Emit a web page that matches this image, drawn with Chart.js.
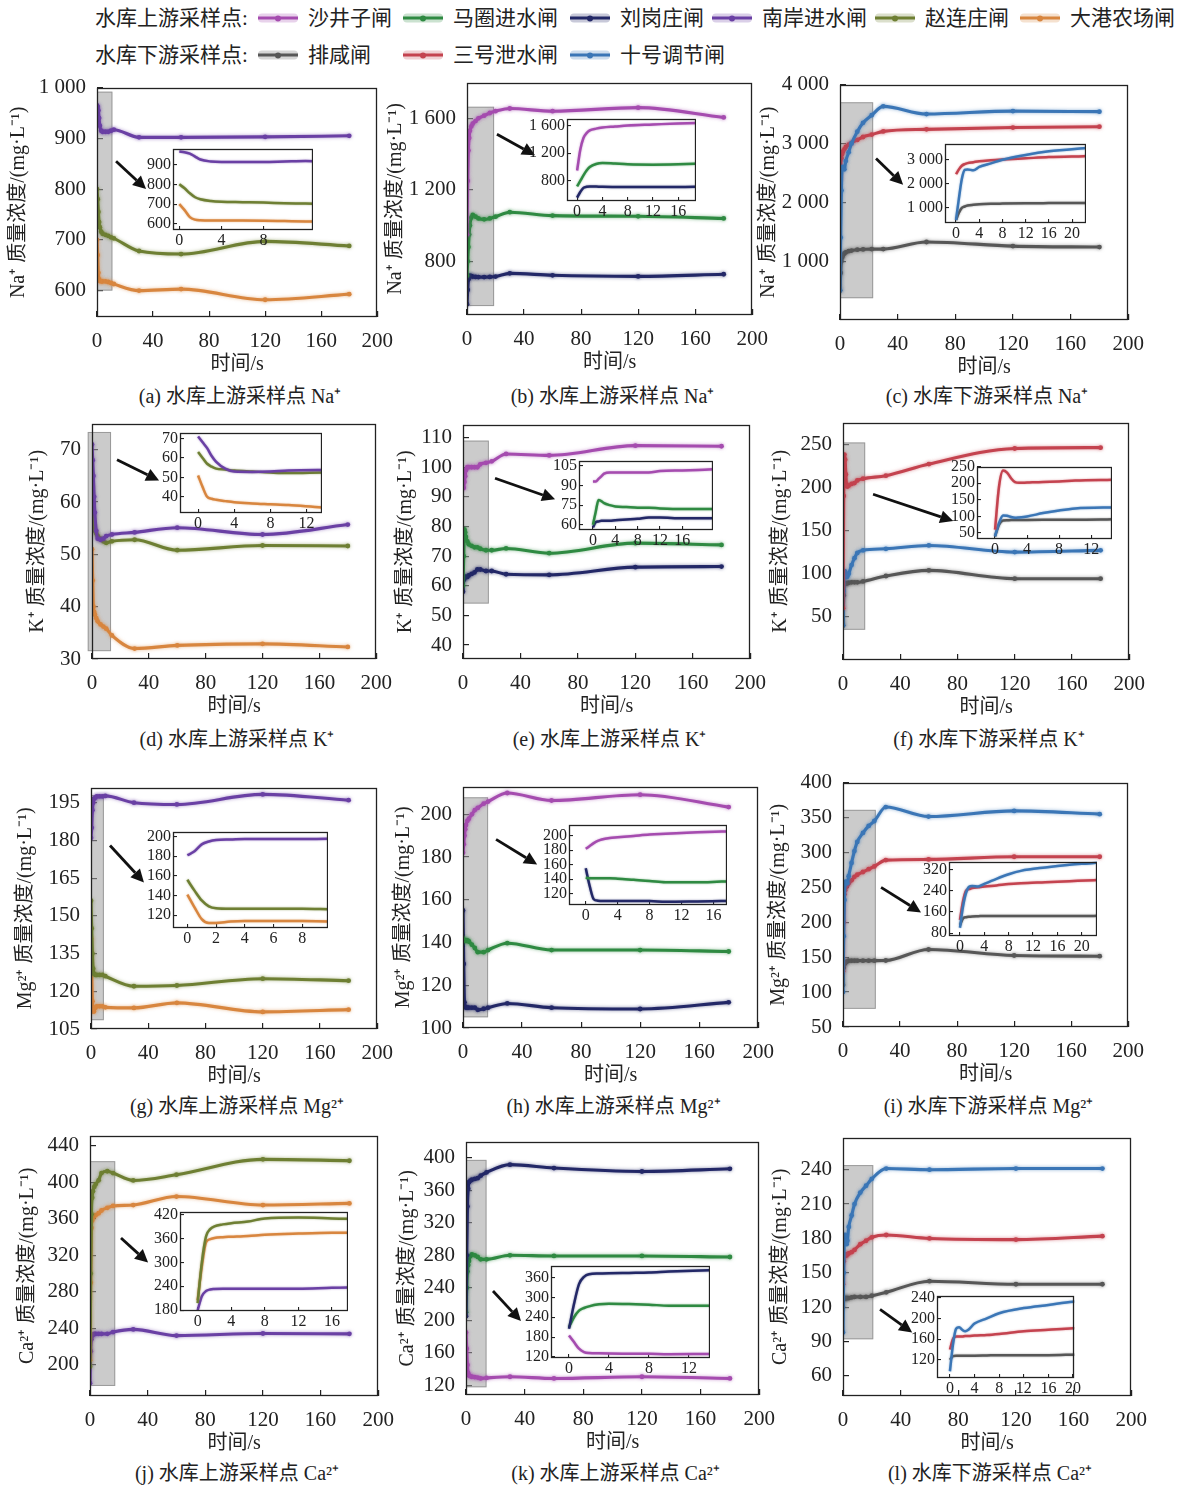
<!DOCTYPE html>
<html><head><meta charset="utf-8">
<script src="https://cdn.jsdelivr.net/npm/chart.js@4.4.1/dist/chart.umd.min.js"></script>
<style>
html,body{margin:0;padding:0;background:#fff;}
body{position:relative;width:1181px;height:1490px;overflow:hidden;font-family:"Liberation Serif","Noto Sans CJK SC",serif;color:#222;}
canvas{position:absolute;}
.txt{position:absolute;white-space:nowrap;font-size:21px;line-height:24px;transform:translateY(-50%);}
.cap{transform:translate(-50%,-50%);font-size:20px;}
.sym{position:absolute;width:40px;height:9px;border-radius:4px;transform:translateY(-50%);}
.sym i{position:absolute;left:0;right:0;top:3px;height:3px;}
.sym b{position:absolute;left:17px;top:1.5px;width:6px;height:6px;border-radius:50%;}
</style></head><body>
<script>
// ================= DATA =================
const upstreamNames = ['沙井子闸','马圈进水闸','刘岗庄闸','南岸进水闸','赵连庄闸','大港农场闸'];
const downstreamNames = ['排咸闸','三号泄水闸','十号调节闸'];
const legendTitles = ['水库上游采样点:','水库下游采样点:'];
const xTicksMain = [0,40,80,120,160,200];
const xTitle = '时间/s';

// (a) Na+ upstream
const tA = [0,0.5,1,1.5,2,3,4,6,8,10,12,30,60,120,180];
const A_nanan = [965,962,955,940,925,915,913,913,913,915,917,902,902,903,905];
const A_zhaolian = [800,780,755,735,725,716,712,710,708,705,703,678,672,697,688];
const A_dagang = [700,670,635,622,619,618,618,618,617,615,613,600,603,582,593];
const yTicksA = [600,700,800,900,1000];
const inYTicksA = [600,700,800,900];
const inXTicksA = [0,4,8];

// (b) Na+ upstream
const tB = [0,0.5,1,1.5,2,3,4,6,8,12,16,20,30,60,120,180];
const B_shajingzi = [950,1250,1420,1490,1530,1555,1570,1585,1600,1615,1630,1640,1655,1640,1660,1605];
const B_majuan = [720,800,880,950,1000,1045,1060,1050,1040,1035,1040,1050,1075,1056,1052,1040];
const B_liugang = [560,640,700,715,720,718,715,713,712,712,713,715,733,722,716,728];
const yTicksB = [800,1200,1600];
const inYTicksB = [800,1200,1600];
const inXTicksB = [0,4,8,12,16];

// (c) Na+ downstream
const tC = [0,0.5,1,1.5,2,3,4,6,8,12,16,22,30,60,120,180];
const C_shihao = [500,1400,2200,2580,2600,2560,2700,2850,3000,3200,3350,3480,3630,3500,3550,3540];
const C_sanhao = [2400,2600,2750,2820,2860,2900,2940,2980,3010,3060,3110,3150,3205,3240,3270,3285];
const C_paixian = [500,800,1000,1060,1100,1130,1150,1170,1180,1195,1200,1205,1205,1325,1256,1240];
const yTicksC = [1000,2000,3000,4000];
const inYTicksC = [1000,2000,3000];
const inXTicksC = [0,4,8,12,16,20];

// (d) K+ upstream
const tD = [0,0.5,1,1.5,2,3,4,6,8,10,14,30,60,120,180];
const D_nanan = [71,68,65,61,58,54.5,53,52.8,53,53.5,53.8,54.2,55.1,53.8,55.7];
const D_zhaolian = [63,60,57,55.5,54.5,54,53.5,53,52.5,52.2,52.5,52.8,50.8,51.7,51.6];
const D_dagang = [51,45,40,39,38.5,37.8,37.2,36.6,36.2,35.8,34.5,32,32.6,32.9,32.3];
const yTicksD = [30,40,50,60,70];
const inYTicksD = [40,50,60,70];
const inXTicksD = [0,4,8,12];

// (e) K+ upstream
const tE = [0,0.5,1,1.5,2,3,4,6,8,10,12,16,20,30,60,120,180];
const E_shajingzi = [93,93,95,97,99,100,100,100,100,100,101,101.5,102,104.5,104,107.3,107.1];
const E_majuan = [60,70,79,78,76.5,75,74,73.5,73,73,72.5,72,72,72.6,71,74.4,73.8];
const E_liugang = [58,62,62.5,63,63,63,63.5,64,64.5,65.5,65.5,65,65,63.9,63.7,66.3,66.5];
const yTicksE = [40,50,60,70,80,90,100,110];
const inYTicksE = [60,75,90,105];
const inXTicksE = [0,4,8,12,16];

// (f) K+ downstream
const tF = [0,0.5,1,1.5,2,2.5,3,4,6,8,10,14,30,60,120,180];
const F_sanhao = [60,190,238,232,215,203,201,202,204,205,208,210,213.5,227,245,246];
const F_shihao = [40,80,103,102,98,96,97,100,110,118,124,127,128.8,132.7,125,127];
const F_paixian = [40,75,88,88.5,89,89,89,89.5,90,90,90,91,97.3,103.8,94.2,94.2];
const yTicksF = [50,100,150,200,250];
const inYTicksF = [50,100,150,200,250];
const inXTicksF = [0,4,8,12];

// (g) Mg2+ upstream
const tG = [0,0.5,1,1.5,2,3,4,6,8,10,30,60,120,180];
const G_nanan = [181,185,192,195,196.5,197,197.5,197.5,197.5,197.7,195,194.3,198.3,196];
const G_zhaolian = [156,145,135,129,127,126.5,126.5,126.5,126.5,126,122,122.3,125,124.2];
const G_dagang = [141,128,116,112,112,113.5,114,114,114,113.6,113.4,115.4,111.8,112.7];
const yTicksG = [105,120,135,150,165,180,195];
const inYTicksG = [120,140,160,180,200];
const inXTicksG = [0,2,4,6,8];

// (h) Mg2+ upstream
const tH = [0,0.5,1,1.5,2,3,4,6,8,10,14,17,30,60,120,180];
const H_shajingzi = [182,186,190,193,195,197,198,200,202,203,205,206,210,206.5,209.2,203.4];
const H_majuan = [142,141,141,141,141,141,140.5,139,137.5,135.5,135.5,136.5,139.7,136.5,136.5,135.8];
const H_liugang = [155,130,112,110,109.5,109.5,109.5,109.5,109.5,108.5,109,109.5,111.5,109.5,108.9,112];
const yTicksH = [100,120,140,160,180,200];
const inYTicksH = [120,140,160,180,200];
const inXTicksH = [0,4,8,12,16];

// (i) Mg2+ downstream
const tI = [0,0.5,1,1.5,2,3,4,6,8,10,14,18,22,30,60,120,180];
const I_shihao = [100,180,232,255,258,256,266,285,302,315,328,338,345,365,351.4,359.5,354.8];
const I_sanhao = [130,200,240,246,250,253,256,260,265,268,272,276,280,289,290,293.8,293.8];
const I_paixian = [110,135,140,142,143,144,145,145,145,145,145,145,145,145.2,161,152.4,151.4];
const yTicksI = [50,100,150,200,250,300,350,400];
const inYTicksI = [80,160,240,320];
const inXTicksI = [0,4,8,12,16,20];

// (j) Ca2+ upstream
const tJ = [0,0.5,1,1.5,2,3,4,6,8,12,16,30,60,120,180];
const J_zhaolian = [198,300,365,383,390,395,398,402,410,412,410,401.9,408.2,425,423.5];
const J_dagang = [205,290,350,358,361,363,364,366,369,372,374,375,384.3,375,376.8];
const J_nanan = [180,215,228,232,233,234,234,234,234,234,236,238.9,232.1,234.4,234];
const yTicksJ = [200,240,280,320,360,400,440];
const inYTicksJ = [180,240,300,360,420];
const inXTicksJ = [0,4,8,12,16];

// (k) Ca2+ upstream
const tK = [0,0.5,1,1.5,2,3,4,6,8,10,14,30,60,120,180];
const K_liugang = [205,280,340,362,370,372,373,374,375,378,382,391.6,387.4,383.2,386.5];
const K_majuan = [210,240,260,268,273,279,281,280,278,275,275,280,279.2,279.2,277.9];
const K_shajingzi = [185,165,145,135,132,131,130.5,130,129.5,128.4,129,130.5,128.4,130.5,128.4];
const yTicksK = [120,160,200,240,280,320,360,400];
const inYTicksK = [120,180,240,300,360];
const inXTicksK = [0,4,8,12];

// (l) Ca2+ downstream
const tL = [0,0.5,1,1.5,2,2.5,3,4,6,8,12,16,20,30,60,120,180];
const L_shihao = [98,150,180,183,178,175,178,190,200,210,220,226,232,241,240,241,241];
const L_sanhao = [140,160,165,165,165,166,166,167,168,170,175,178,181,183,180,179,182];
const L_paixian = [120,127,128,128,128,128,128,128,128.5,129,129,129,130,133,142.7,140,140];
const yTicksL = [60,90,120,150,180,210,240];
const inYTicksL = [120,160,200,240];
const inXTicksL = [0,4,8,12,16,20];

// ================= STYLE =================
const COLORS = {
  '沙井子闸':'#a54caf','马圈进水闸':'#2f8a42','刘岗庄闸':'#232867','南岸进水闸':'#6a40a4',
  '赵连庄闸':'#6e7f33','大港农场闸':'#d8863f','排咸闸':'#575757','三号泄水闸':'#c4434f','十号调节闸':'#3b76b6'
};
const NUM_FONT = '"Liberation Serif","DejaVu Serif",serif';
const TXT_FONT = '"Liberation Serif","Noto Sans CJK SC",serif';

// ================= PANELS =================
const panels = [
 {t:tA, series:[['南岸进水闸',A_nanan],['赵连庄闸',A_zhaolian],['大港农场闸',A_dagang]], yTitle:'Na⁺ 质量浓度/(mg·L⁻¹)', caption:'(a) 水库上游采样点 Na⁺',
  yRange:[548,1000], yTicks:yTicksA, inset:{xRange:[-0.6,12.7], yRange:[570,980], xTicks:inXTicksA, yTicks:inYTicksA},
  lay:{plot:[97,88,377,317], titleX:18, capY:396, inRect:[173,149,313,230], box:[[0,11],[600,992]], arrow:[13.6,855,35,800]}},
 {t:tB, series:[['沙井子闸',B_shajingzi],['马圈进水闸',B_majuan],['刘岗庄闸',B_liugang]], yTitle:'Na⁺ 质量浓度/(mg·L⁻¹)', caption:'(b) 水库上游采样点 Na⁺',
  yRange:[500,1800], yTicks:yTicksB, inset:{xRange:[-1.6,18.8], yRange:[510,1700], xTicks:inXTicksB, yTicks:inYTicksB},
  lay:{plot:[467,83,752,315], titleX:395, capY:396, inRect:[567,119,696,201], box:[[0,19],[550,1665]], arrow:[21,1511,47.7,1394]}},
 {t:tC, series:[['十号调节闸',C_shihao],['三号泄水闸',C_sanhao],['排咸闸',C_paixian]], yTitle:'Na⁺ 质量浓度/(mg·L⁻¹)', caption:'(c) 水库下游采样点 Na⁺',
  yRange:[0,4000], yTicks:yTicksC, inset:{xRange:[-1.9,22.4], yRange:[375,3670], xTicks:inXTicksC, yTicks:inYTicksC},
  lay:{plot:[840,85,1128,320], titleX:768, capY:396, inRect:[945,144,1086,223], box:[[0,23],[370,3700]], arrow:[25,2744,43.8,2299]}},
 {t:tD, series:[['南岸进水闸',D_nanan],['赵连庄闸',D_zhaolian],['大港农场闸',D_dagang]], yTitle:'K⁺ 质量浓度/(mg·L⁻¹)', caption:'(d) 水库上游采样点 K⁺',
  yRange:[30,75], yTicks:yTicksD, inset:{xRange:[-2,13.7], yRange:[31.7,73], xTicks:inXTicksD, yTicks:inYTicksD},
  lay:{plot:[92,424,376,659], titleX:37, capY:739, inRect:[180,433,322,513], box:[[-3,13.4],[31.5,73.4]], arrow:[17.6,68.1,47.2,64.1]}},
 {t:tE, series:[['沙井子闸',E_shajingzi],['马圈进水闸',E_majuan],['刘岗庄闸',E_liugang]], yTitle:'K⁺ 质量浓度/(mg·L⁻¹)', caption:'(e) 水库上游采样点 K⁺',
  yRange:[35.3,114.4], yTicks:yTicksE, inset:{xRange:[-2.5,21.5], yRange:[56,109], xTicks:inXTicksE, yTicks:inYTicksE},
  lay:{plot:[463,425,750,659], titleX:405, capY:739, inRect:[579,461,713,530], box:[[0,18],[54,109]], arrow:[22.3,96.3,64.1,89.2]}},
 {t:tF, series:[['三号泄水闸',F_sanhao],['十号调节闸',F_shihao],['排咸闸',F_paixian]], yTitle:'K⁺ 质量浓度/(mg·L⁻¹)', caption:'(f) 水库下游采样点 K⁺',
  yRange:[0,275], yTicks:yTicksF, inset:{xRange:[-2.25,14.6], yRange:[32,250], xTicks:inXTicksF, yTicks:inYTicksF},
  lay:{plot:[843,423,1129,660], titleX:780, capY:739, inRect:[977,467,1112,539], box:[[0,15.5],[35,252]], arrow:[21,192,77,161]}},
 {t:tG, series:[['南岸进水闸',G_nanan],['赵连庄闸',G_zhaolian],['大港农场闸',G_dagang]], yTitle:'Mg²⁺ 质量浓度/(mg·L⁻¹)', caption:'(g) 水库上游采样点 Mg²⁺',
  yRange:[105,201], yTicks:yTicksG, inset:{xRange:[-1,9.8], yRange:[107,205], xTicks:inXTicksG, yTicks:inYTicksG},
  lay:{plot:[91,788,377,1029], titleX:25, capY:1106, inRect:[173,832,328,928], box:[[0,9],[108.5,198]], arrow:[13.3,178,37,163.3]}},
 {t:tH, series:[['沙井子闸',H_shajingzi],['马圈进水闸',H_majuan],['刘岗庄闸',H_liugang]], yTitle:'Mg²⁺ 质量浓度/(mg·L⁻¹)', caption:'(h) 水库上游采样点 Mg²⁺',
  yRange:[100,213], yTicks:yTicksH, inset:{xRange:[-2.1,17.7], yRange:[104,215.7], xTicks:inXTicksH, yTicks:inYTicksH},
  lay:{plot:[463,787,758,1028], titleX:403, capY:1106, inRect:[569,825,727,905], box:[[0,17],[105,208]], arrow:[22.4,188.3,50.2,176.5]}},
 {t:tI, series:[['十号调节闸',I_shihao],['三号泄水闸',I_sanhao],['排咸闸',I_paixian]], yTitle:'Mg²⁺ 质量浓度/(mg·L⁻¹)', caption:'(i) 水库下游采样点 Mg²⁺',
  yRange:[50,400], yTicks:yTicksI, inset:{xRange:[-1.8,22.5], yRange:[69,350], xTicks:inXTicksI, yTicks:inYTicksI},
  lay:{plot:[843,783,1128,1027], titleX:778, capY:1106, inRect:[949,862,1097,936], box:[[0,23],[76,361]], arrow:[26.7,250,54.7,214]}},
 {t:tJ, series:[['赵连庄闸',J_zhaolian],['大港农场闸',J_dagang],['南岸进水闸',J_nanan]], yTitle:'Ca²⁺ 质量浓度/(mg·L⁻¹)', caption:'(j) 水库上游采样点 Ca²⁺',
  yRange:[166,451], yTicks:yTicksJ, inset:{xRange:[-2.1,17.9], yRange:[178,427], xTicks:inXTicksJ, yTicks:inYTicksJ},
  lay:{plot:[90,1136,378,1396], titleX:27, capY:1473, inRect:[180,1212,348,1311], box:[[0,17.5],[177,423]], arrow:[21.5,339,40.3,312]}},
 {t:tK, series:[['刘岗庄闸',K_liugang],['马圈进水闸',K_majuan],['沙井子闸',K_shajingzi]], yTitle:'Ca²⁺ 质量浓度/(mg·L⁻¹)', caption:'(k) 水库上游采样点 Ca²⁺',
  yRange:[108,420], yTicks:yTicksK, inset:{xRange:[-1.8,14.1], yRange:[117,396], xTicks:inXTicksK, yTicks:inYTicksK},
  lay:{plot:[466,1142,759,1395], titleX:407, capY:1473, inRect:[551,1266,710,1358], box:[[0,14],[117.5,397.5]], arrow:[18.4,236,37.5,199]}},
 {t:tL, series:[['十号调节闸',L_shihao],['三号泄水闸',L_sanhao],['排咸闸',L_paixian]], yTitle:'Ca²⁺ 质量浓度/(mg·L⁻¹)', caption:'(l) 水库下游采样点 Ca²⁺',
  yRange:[42.5,268], yTicks:yTicksL, inset:{xRange:[-2.1,20.2], yRange:[85,244], xTicks:inXTicksL, yTicks:inYTicksL},
  lay:{plot:[843,1138,1131,1396], titleX:780, capY:1473, inRect:[937,1296,1075,1378], box:[[0,21],[92,244]], arrow:[25.7,118,48,98]}}
];

// ================= HELPERS =================
function fmt(v){ return v >= 1000 ? String(v).replace(/\B(?=(\d{3})+(?!\d))/g,' ') : String(v); }

const deco = {
  id:'deco',
  beforeDraw(chart, args, o){
    if (o.bg){ const a=chart.chartArea, ctx=chart.ctx; ctx.save(); ctx.fillStyle='#fff';
      ctx.fillRect(a.left,a.top,a.right-a.left,a.bottom-a.top); ctx.restore(); }
  },
  beforeDatasetsDraw(chart, args, o){
    if (!o.box) return;
    const ctx=chart.ctx, xs=chart.scales.x, ys=chart.scales.y;
    const x0=xs.getPixelForValue(o.box[0][0]), x1=xs.getPixelForValue(o.box[0][1]);
    const y0=ys.getPixelForValue(o.box[1][1]), y1=ys.getPixelForValue(o.box[1][0]);
    ctx.save(); ctx.fillStyle='rgba(160,160,160,0.55)'; ctx.fillRect(x0,y0,x1-x0,y1-y0);
    ctx.strokeStyle='rgba(120,120,120,0.6)'; ctx.lineWidth=1; ctx.strokeRect(x0+0.5,y0+0.5,x1-x0-1,y1-y0-1); ctx.restore();
  },
  beforeDatasetDraw(chart, args, o){
    const ds=chart.data.datasets[args.index]; const ctx=chart.ctx; ctx.save();
    ctx.shadowColor = ds.borderColor + '90'; ctx.shadowBlur = o.glow || 3;
  },
  afterDatasetDraw(chart){ chart.ctx.restore(); },
  afterDraw(chart, args, o){
    const ctx=chart.ctx, a=chart.chartArea;
    ctx.save(); ctx.strokeStyle='#222'; ctx.lineWidth=1.3;
    ctx.strokeRect(Math.round(a.left)+0.5, Math.round(a.top)+0.5, Math.round(a.right-a.left)-1, Math.round(a.bottom-a.top)-1);
    if (o.arrow){
      const xs=chart.scales.x, ys=chart.scales.y;
      const x1=xs.getPixelForValue(o.arrow[0]), y1=ys.getPixelForValue(o.arrow[1]);
      const x2=xs.getPixelForValue(o.arrow[2]), y2=ys.getPixelForValue(o.arrow[3]);
      const ang=Math.atan2(y2-y1,x2-x1), hl=13, hw=6.5;
      const bx=x2-hl*Math.cos(ang), by=y2-hl*Math.sin(ang);
      ctx.strokeStyle='#111'; ctx.fillStyle='#111'; ctx.lineWidth=2.8;
      ctx.beginPath(); ctx.moveTo(x1,y1); ctx.lineTo(bx,by); ctx.stroke();
      ctx.beginPath(); ctx.moveTo(x2,y2);
      ctx.lineTo(bx+hw*Math.sin(ang), by-hw*Math.cos(ang));
      ctx.lineTo(bx-hw*Math.sin(ang), by+hw*Math.cos(ang));
      ctx.closePath(); ctx.fill();
    }
    ctx.restore();
  }
};

function mkCanvas(left, top, w, h, z){
  const c=document.createElement('canvas');
  c.width=w; c.height=h; c.style.left=left+'px'; c.style.top=top+'px';
  c.style.width=w+'px'; c.style.height=h+'px'; c.style.zIndex=z;
  document.body.appendChild(c); return c;
}

function datasets(p, main){
  return p.series.map(([name, vals]) => ({
    label:name, data:p.t.map((x,i)=>({x:x, y:vals[i]})),
    borderColor:COLORS[name], backgroundColor:COLORS[name],
    borderWidth: main ? 3.1 : 2.5, pointRadius: main ? 2.4 : 0, pointBorderWidth:0, pointHoverRadius:0,
    cubicInterpolationMode:'monotone', fill:false
  }));
}

// Two-pass placement so the plot area lands exactly on the target rectangle
function placeChart(rect, cfgFn, z){
  const [L,T,R,B] = rect;
  let w = 120 + (R-L) + 40, h = 40 + (B-T) + 80;
  let c = mkCanvas(0, 0, w, h, z);
  let ch = new Chart(c, cfgFn());
  const a = ch.chartArea;
  const lo = a.left, to = a.top, ro = w - a.right, bo = h - a.bottom;
  ch.destroy(); c.remove();
  w = Math.round(lo + (R-L) + ro); h = Math.round(to + (B-T) + bo);
  c = mkCanvas(Math.round(L - lo), Math.round(T - to), w, h, z);
  return new Chart(c, cfgFn());
}

function mainCfg(p){
  const yW = p.lay.plot[0] - (p.lay.titleX - 12);
  const xH = 62;
  return {
    type:'line',
    data:{datasets:datasets(p,true)},
    options:{
      responsive:false, animation:false, events:[],
      layout:{padding:{top:0,right:0,left:0,bottom:0}},
      plugins:{legend:{display:false}, tooltip:{enabled:false}, deco:{box:p.lay.box, arrow:p.lay.arrow, glow:3.5}},
      scales:{
        x:{type:'linear', min:0, max:200,
           afterBuildTicks:ax=>{ax.ticks=xTicksMain.map(v=>({value:v}));},
           afterFit:ax=>{ax.height=xH;},
           grid:{drawOnChartArea:false, tickLength:-6, color:'#222', lineWidth:1.2},
           border:{display:false},
           ticks:{font:{family:NUM_FONT,size:21}, color:'#222', padding:18, maxRotation:0, minRotation:0, autoSkip:false, callback:v=>fmt(v)},
           title:{display:true, text:xTitle, font:{family:TXT_FONT,size:20}, color:'#222', padding:{top:0,bottom:2}}},
        y:{type:'linear', min:p.yRange[0], max:p.yRange[1],
           afterBuildTicks:ax=>{ax.ticks=p.yTicks.map(v=>({value:v}));},
           afterFit:ax=>{ax.width=yW;},
           grid:{drawOnChartArea:false, tickLength:-6, color:'#222', lineWidth:1.2},
           border:{display:false},
           ticks:{font:{family:NUM_FONT,size:21}, color:'#222', padding:17, autoSkip:false, callback:v=>fmt(v)},
           title:{display:true, text:p.yTitle, font:{family:TXT_FONT,size:20}, color:'#222', padding:{top:1,bottom:0}}}
      }
    },
    plugins:[deco]
  };
}

function insetCfg(p){
  const ins = p.inset, yW=44, xH=22;
  return {
    type:'line',
    data:{datasets:datasets(p,false)},
    options:{
      responsive:false, animation:false, events:[],
      layout:{padding:{top:0,right:0,left:0,bottom:0}},
      plugins:{legend:{display:false}, tooltip:{enabled:false}, deco:{bg:true, glow:2}},
      scales:{
        x:{type:'linear', min:ins.xRange[0], max:ins.xRange[1],
           afterBuildTicks:ax=>{ax.ticks=ins.xTicks.map(v=>({value:v}));},
           afterFit:ax=>{ax.height=xH;},
           grid:{drawOnChartArea:false, tickLength:-4, color:'#222', lineWidth:1.1},
           border:{display:false},
           ticks:{font:{family:NUM_FONT,size:16}, color:'#222', padding:5, maxRotation:0, minRotation:0, autoSkip:false, callback:v=>fmt(v)}},
        y:{type:'linear', min:ins.yRange[0], max:ins.yRange[1],
           afterBuildTicks:ax=>{ax.ticks=ins.yTicks.map(v=>({value:v}));},
           afterFit:ax=>{ax.width=yW;},
           grid:{drawOnChartArea:false, tickLength:-4, color:'#222', lineWidth:1.1},
           border:{display:false},
           ticks:{font:{family:NUM_FONT,size:16}, color:'#222', padding:6, autoSkip:false, callback:v=>fmt(v)}}
      }
    },
    plugins:[deco]
  };
}

function addText(txt, x, y, cls){
  const d=document.createElement('div'); d.className='txt'+(cls?' '+cls:'');
  d.textContent=txt; d.style.left=x+'px'; d.style.top=y+'px'; document.body.appendChild(d); return d;
}
function addSym(name, x, y){
  const col=COLORS[name];
  const s=document.createElement('div'); s.className='sym'; s.style.left=x+'px'; s.style.top=y+'px';
  s.style.background=col+'40';
  const i=document.createElement('i'); i.style.background=col; s.appendChild(i);
  const b=document.createElement('b'); b.style.background=col; s.appendChild(b);
  document.body.appendChild(s);
}

// ================= LEGEND =================
const legendRows = [
  {title:legendTitles[0], y:18, names:upstreamNames, symX:[258,403,570,712,875,1020]},
  {title:legendTitles[1], y:55, names:downstreamNames, symX:[258,403,570]}
];
legendRows.forEach(r=>{
  addText(r.title, 95, r.y);
  r.names.forEach((n,k)=>{ addSym(n, r.symX[k], r.y); addText(n, r.symX[k]+50, r.y); });
});

// ================= BUILD =================
panels.forEach(p=>{
  placeChart(p.lay.plot, ()=>mainCfg(p), 1);
  placeChart(p.lay.inRect, ()=>insetCfg(p), 2);
  const [L,T,R,B] = p.lay.plot;
  addText(p.caption, (L+R)/2+3, p.lay.capY, 'cap');
});
</script>
</body></html>
